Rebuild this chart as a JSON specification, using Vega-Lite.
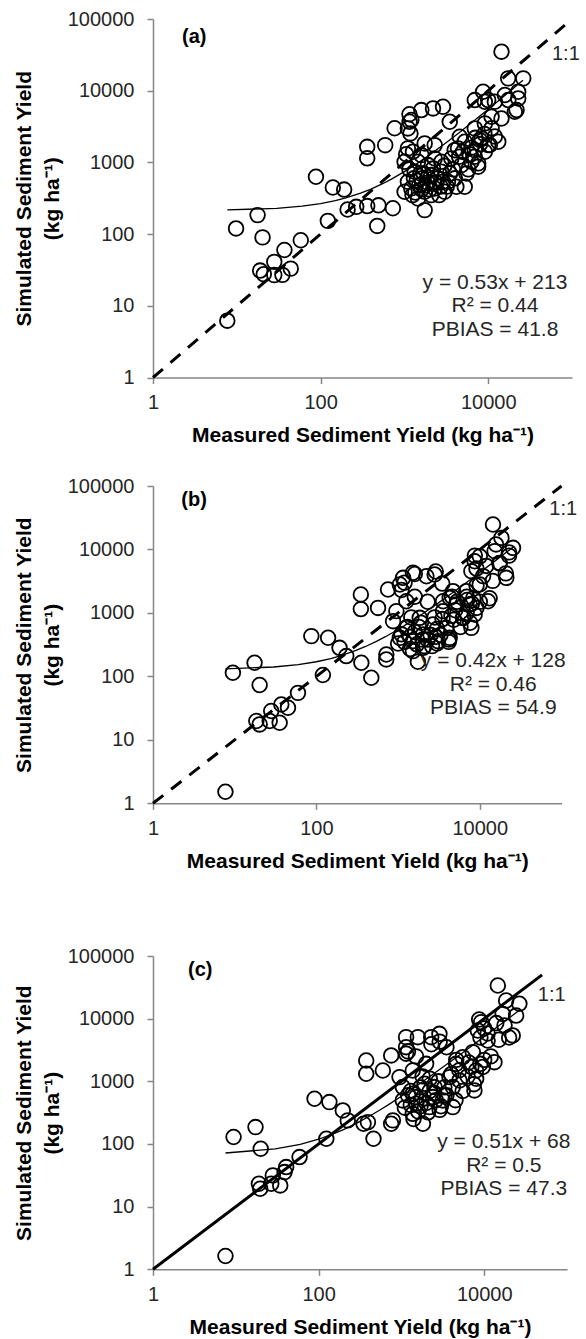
{
  "$schema": "https://vega.github.io/schema/vega-lite/v6.json",
  "background": "white",
  "padding": {"top": 9, "left": 13, "right": 2, "bottom": 0},
  "spacing": 0,
  "bounds": "flush",
  "config": {
    "view": {"stroke": null},
    "font": "Liberation Sans",
    "axis": {
      "grid": false,
      "domainColor": "#868686",
      "tickColor": "#868686",
      "domainWidth": 1.5,
      "tickWidth": 1.5,
      "tickSize": 6,
      "labelFont": "Liberation Sans",
      "labelFontSize": 20,
      "labelColor": "#262626",
      "labelFlush": false,
      "labelOverlap": false,
      "titleFont": "Liberation Sans",
      "titleFontSize": 21,
      "titleFontWeight": "bold",
      "titleColor": "#000000"
    },
    "axisX": {"labelPadding": 9, "titlePadding": 12},
    "axisY": {"labelPadding": 13, "titlePadding": 5, "titleLineHeight": 28}
  },
  "resolve": {"scale": {"x": "independent", "y": "independent"}},
  "datasets": {
    "pa": [
      {"x":7.7,"y":6.2},{"x":9.8,"y":120},{"x":17.7,"y":184},{"x":20.3,"y":90},{"x":19,"y":31},{"x":21,"y":27.6},{"x":28,"y":26.8},{"x":28,"y":41},{"x":35,"y":27},{"x":37,"y":60},{"x":44,"y":33},{"x":58,"y":82},{"x":88,"y":630},{"x":122,"y":153},{"x":140,"y":447},{"x":191,"y":418},{"x":210,"y":220},{"x":266,"y":240},{"x":360,"y":246},{"x":360,"y":1650},{"x":360,"y":1140},{"x":474,"y":130},{"x":590,"y":1740},{"x":764,"y":2990},{"x":729,"y":229},{"x":1050,"y":1300},{"x":1150,"y":4700},{"x":1210,"y":3900},{"x":1100,"y":2980},{"x":1153,"y":3690},{"x":1180,"y":2535},{"x":1592,"y":5370},{"x":2195,"y":5660},{"x":2890,"y":5970},{"x":3475,"y":3690},{"x":1100,"y":1567},{"x":1265,"y":1407},{"x":1746,"y":1840},{"x":2298,"y":1742},{"x":1452,"y":1021},{"x":1910,"y":917},{"x":4575,"y":2280},{"x":5250,"y":1940},{"x":4365,"y":1567},{"x":3630,"y":1135},{"x":6920,"y":2980},{"x":8320,"y":2160},{"x":10000,"y":1742},{"x":13200,"y":1940},{"x":7590,"y":869},{"x":6310,"y":1021},{"x":9120,"y":1407},{"x":6920,"y":1483},{"x":4170,"y":457},{"x":2890,"y":537},{"x":1746,"y":216},{"x":490,"y":252},{"x":6920,"y":7400},{"x":9120,"y":7010},{"x":12000,"y":7010},{"x":17400,"y":7400},{"x":22800,"y":7800},{"x":20800,"y":5080},{"x":14400,"y":4100},{"x":10970,"y":4330},{"x":9120,"y":3500},{"x":1005,"y":1021},{"x":1324,"y":740},{"x":1100,"y":537},{"x":1592,"y":597},{"x":2090,"y":665},{"x":2755,"y":740},{"x":1208,"y":433},{"x":1746,"y":389},{"x":2298,"y":433},{"x":3020,"y":389},{"x":1452,"y":314},{"x":2090,"y":350},{"x":1005,"y":389},{"x":2755,"y":1021},{"x":2298,"y":1135},{"x":1592,"y":1264},{"x":3311,"y":537},{"x":4780,"y":917},{"x":14400,"y":35000},{"x":17300,"y":14860},{"x":26200,"y":14860},{"x":22800,"y":9680},{"x":15800,"y":8700},{"x":21800,"y":5370},{"x":8690,"y":9680},{"x":9980,"y":7400},{"x":10470,"y":1747},{"x":7940,"y":2050},{"x":6300,"y":1600},{"x":7000,"y":2200},{"x":7590,"y":970},{"x":5800,"y":800},{"x":6900,"y":1200},{"x":5250,"y":457},{"x":3980,"y":1480},{"x":1300,"y":600},{"x":1500,"y":480},{"x":1700,"y":700},{"x":1900,"y":520},{"x":1250,"y":350},{"x":1600,"y":420},{"x":2500,"y":600},{"x":2200,"y":820},{"x":3500,"y":700},{"x":4000,"y":600},{"x":3000,"y":900},{"x":5500,"y":700},{"x":4500,"y":1200},{"x":5000,"y":1400},{"x":6000,"y":1300},{"x":8000,"y":1800},{"x":9000,"y":2500},{"x":12000,"y":2300},{"x":11000,"y":3000},
      {"x":1150,"y":800},{"x":1400,"y":560},{"x":1800,"y":480},{"x":2000,"y":420},{"x":2400,"y":520},{"x":2600,"y":350},{"x":1350,"y":380},{"x":3200,"y":460},{"x":2700,"y":460},{"x":3800,"y":800},{"x":1550,"y":700},{"x":1900,"y":620}
    ],
    "pb": [
      {"x":7.7,"y":1.52},{"x":9.5,"y":114},{"x":17.5,"y":164},{"x":20.2,"y":73},{"x":18.4,"y":19.8},{"x":20.2,"y":17.5},{"x":26.8,"y":19.8},{"x":28,"y":28.5},{"x":35.5,"y":18.6},{"x":37.2,"y":36},{"x":44.9,"y":32},{"x":59.5,"y":55},{"x":86.7,"y":431},{"x":139,"y":406},{"x":120,"y":105},{"x":192,"y":282},{"x":232,"y":209},{"x":355,"y":164},{"x":470,"y":95},{"x":350,"y":1950},{"x":350,"y":1150},{"x":716,"y":185},{"x":14500,"y":24700},{"x":18400,"y":15200},{"x":25500,"y":10600},{"x":15200,"y":9400},{"x":17500,"y":6150},{"x":21100,"y":3570},{"x":8650,"y":6530},{"x":7890,"y":4550},{"x":9980,"y":2810},{"x":12600,"y":1530},{"x":6840,"y":2200},{"x":7510,"y":1360},{"x":8650,"y":944},{"x":4280,"y":1730},{"x":5160,"y":1360},{"x":3550,"y":1067},{"x":2800,"y":4030},{"x":2220,"y":3790},{"x":1520,"y":4290},{"x":1150,"y":3570},{"x":1050,"y":2800},{"x":753,"y":2340},{"x":568,"y":1200},{"x":953,"y":1067},{"x":1260,"y":1530},{"x":868,"y":741},{"x":1260,"y":582},{"x":1050,"y":405},{"x":1520,"y":359},{"x":2020,"y":457},{"x":2670,"y":658},{"x":3900,"y":582},{"x":4280,"y":405},{"x":3080,"y":359},{"x":1840,"y":837},{"x":1520,"y":250},{"x":2020,"y":282},{"x":718,"y":221},{"x":6220,"y":830},{"x":7890,"y":582},{"x":3550,"y":1530},{"x":4700,"y":2200},{"x":1200,"y":3000},{"x":1100,"y":2300},{"x":1600,"y":1800},{"x":2300,"y":1500},{"x":1450,"y":850},{"x":1900,"y":700},{"x":1100,"y":460},{"x":1700,"y":320},{"x":2300,"y":380},{"x":3000,"y":330},{"x":1400,"y":270},{"x":2100,"y":300},{"x":1000,"y":330},{"x":2800,"y":850},{"x":3300,"y":450},{"x":4800,"y":780},{"x":4200,"y":380},{"x":5800,"y":600},{"x":6900,"y":1000},{"x":9100,"y":1200},{"x":10000,"y":1500},{"x":13200,"y":1700},{"x":7600,"y":700},{"x":6300,"y":850},{"x":9100,"y":5000},{"x":12000,"y":5500},{"x":17400,"y":6000},{"x":22800,"y":8000},{"x":20800,"y":4200},{"x":14400,"y":3200},{"x":10970,"y":3800},{"x":9120,"y":2700},{"x":10000,"y":7800},{"x":15800,"y":12000},{"x":22800,"y":9000},{"x":8700,"y":8000},{"x":2890,"y":4500},{"x":1600,"y":4100},{"x":3470,"y":2900},{"x":4575,"y":1800},{"x":5250,"y":1500},{"x":6920,"y":1800},{"x":8320,"y":1700},{"x":7000,"y":1600},{"x":8000,"y":1400},{"x":5000,"y":1100},{"x":4500,"y":900},{"x":1746,"y":170},{"x":4170,"y":350},{"x":2890,"y":420},
      {"x":1300,"y":600},{"x":1600,"y":500},{"x":2000,"y":380},{"x":2500,"y":450},{"x":3000,"y":560},{"x":1200,"y":350},{"x":2600,"y":300},{"x":3500,"y":800},{"x":1800,"y":600},{"x":1400,"y":420}
    ],
    "pc": [
      {"x":7.5,"y":1.63},{"x":9.4,"y":129},{"x":17.3,"y":186},{"x":20,"y":84},{"x":19,"y":23.2},{"x":19.7,"y":19.3},{"x":26.8,"y":23.2},{"x":28,"y":31.5},{"x":34.4,"y":21.8},{"x":38.8,"y":35.6},{"x":40.6,"y":42.8},{"x":58.9,"y":61.8},{"x":89.3,"y":526},{"x":135,"y":466},{"x":124,"y":121},{"x":196,"y":343},{"x":225,"y":238},{"x":349,"y":210},{"x":460,"y":121},{"x":752,"y":210},{"x":14600,"y":33800},{"x":18400,"y":19500},{"x":26600,"y":17300},{"x":24300,"y":11200},{"x":16700,"y":11900},{"x":17600,"y":7800},{"x":22100,"y":5400},{"x":9190,"y":8790},{"x":8370,"y":6470},{"x":11000,"y":4490},{"x":13300,"y":2020},{"x":9620,"y":1690},{"x":7280,"y":2920},{"x":7980,"y":1490},{"x":7620,"y":716},{"x":5520,"y":2430},{"x":4580,"y":1900},{"x":3810,"y":1167},{"x":5030,"y":1033},{"x":4180,"y":809},{"x":2880,"y":5730},{"x":2290,"y":5070},{"x":1580,"y":5070},{"x":1140,"y":5070},{"x":1140,"y":3510},{"x":1140,"y":2760},{"x":753,"y":2590},{"x":376,"y":2150},{"x":376,"y":1320},{"x":597,"y":1490},{"x":949,"y":1167},{"x":1370,"y":1490},{"x":1990,"y":1900},{"x":1040,"y":809},{"x":1370,"y":633},{"x":1900,"y":915},{"x":2510,"y":809},{"x":1040,"y":496},{"x":1510,"y":438},{"x":2180,"y":388},{"x":3160,"y":496},{"x":4180,"y":388},{"x":3320,"y":596},{"x":1370,"y":303},{"x":1820,"y":210},{"x":789,"y":238},{"x":394,"y":223},{"x":1200,"y":3000},{"x":1500,"y":2500},{"x":1800,"y":1200},{"x":2200,"y":1100},{"x":1300,"y":700},{"x":1700,"y":800},{"x":2500,"y":650},{"x":2800,"y":1000},{"x":3500,"y":600},{"x":3000,"y":400},{"x":1100,"y":380},{"x":1600,"y":330},{"x":2100,"y":320},{"x":1400,"y":250},{"x":4500,"y":500},{"x":5500,"y":700},{"x":6300,"y":1200},{"x":7000,"y":1700},{"x":8000,"y":1100},{"x":9000,"y":1900},{"x":10000,"y":2200},{"x":12000,"y":2500},{"x":6500,"y":2000},{"x":7500,"y":900},{"x":5000,"y":1500},{"x":4000,"y":1300},{"x":9000,"y":5000},{"x":11000,"y":5800},{"x":15000,"y":4600},{"x":20000,"y":5000},{"x":14000,"y":8500},{"x":10000,"y":7000},{"x":8700,"y":9700},{"x":2900,"y":4300},{"x":3500,"y":3500},{"x":2300,"y":3900},{"x":4600,"y":2200},
      {"x":1200,"y":600},{"x":1500,"y":560},{"x":2000,"y":450},{"x":2400,"y":560},{"x":2900,"y":350},{"x":1700,"y":400},{"x":3300,"y":800},{"x":2600,"y":500},{"x":1300,"y":420},{"x":2200,"y":700}
    ],
    "ta": [
      {"x":7.7,"y":217.1},{"x":30,"y":228.9},{"x":60,"y":244.8},{"x":100,"y":266},{"x":150,"y":292.5},{"x":200,"y":319},{"x":300,"y":372},{"x":400,"y":425},{"x":550,"y":504.5},{"x":700,"y":584},{"x":1000,"y":743},{"x":1400,"y":955},{"x":2000,"y":1273},{"x":3000,"y":1803},{"x":4500,"y":2598},{"x":7000,"y":3923},{"x":10000,"y":5513},{"x":15000,"y":8163},{"x":20000,"y":10813},{"x":26000,"y":13993}
    ],
    "tb": [
      {"x":7.7,"y":131.2},{"x":30,"y":140.6},{"x":60,"y":153.2},{"x":100,"y":170},{"x":150,"y":191},{"x":200,"y":212},{"x":300,"y":254},{"x":400,"y":296},{"x":550,"y":359},{"x":700,"y":422},{"x":1000,"y":548},{"x":1400,"y":716},{"x":2000,"y":968},{"x":3000,"y":1388},{"x":4500,"y":2018},{"x":7000,"y":3068},{"x":10000,"y":4328},{"x":15000,"y":6428},{"x":20000,"y":8528},{"x":25500,"y":10838}
    ],
    "tc": [
      {"x":7.5,"y":71.8},{"x":30,"y":83.3},{"x":60,"y":98.6},{"x":100,"y":119},{"x":150,"y":144.5},{"x":200,"y":170},{"x":300,"y":221},{"x":400,"y":272},{"x":550,"y":348.5},{"x":700,"y":425},{"x":1000,"y":578},{"x":1400,"y":782},{"x":2000,"y":1088},{"x":3000,"y":1598},{"x":4500,"y":2363},{"x":7000,"y":3638},{"x":10000,"y":5168},{"x":15000,"y":7718},{"x":20000,"y":10268},{"x":26600,"y":13634}
    ],
    "oab": [{"x":1,"y":1},{"x":100000,"y":100000}],
    "oc": [{"x":1,"y":1},{"x":50000,"y":50000}],
    "la": [{"x":2.22,"y":57000,"t":"(a)"}],
    "lb": [{"x":2.22,"y":59700,"t":"(b)"}],
    "lc": [{"x":2.65,"y":59300,"t":"(c)"}],
    "ra": [{"x":57700,"y":32000,"t":"1:1"}],
    "rb": [{"x":71000,"y":43100,"t":"1:1"}],
    "rc": [{"x":44400,"y":24100,"t":"1:1"}],
    "ea": [{"x":12050,"y":20.8,"t":"y = 0.53x + 213"},{"x":12050,"y":9.78,"t":"R² = 0.44"},{"x":12050,"y":4.6,"t":"PBIAS = 41.8"}],
    "eb": [{"x":14600,"y":174,"t":"y = 0.42x + 128"},{"x":14600,"y":74.3,"t":"R² = 0.46"},{"x":14600,"y":31.7,"t":"PBIAS = 54.9"}],
    "ec": [{"x":17250,"y":107,"t":"y = 0.51x + 68"},{"x":17250,"y":45.3,"t":"R² = 0.5"},{"x":17250,"y":19.1,"t":"PBIAS = 47.3"}]
  },
  "vconcat": [
    {
      "width": 419, "height": 358.5,
      "encoding": {
        "x": {"field": "x", "type": "quantitative", "scale": {"type": "log", "domain": [1, 100000], "nice": false}, "axis": {"values": [1, 100, 10000], "format": "d", "title": "Measured Sediment Yield (kg ha⁻¹)"}},
        "y": {"field": "y", "type": "quantitative", "scale": {"type": "log", "domain": [1, 100000], "nice": false}, "axis": {"values": [1, 10, 100, 1000, 10000, 100000], "format": "d", "title": ["Simulated Sediment Yield", "(kg ha⁻¹)"]}}
      },
      "layer": [
        {"data": {"name": "oab"}, "mark": {"type": "line", "color": "black", "strokeWidth": 3, "strokeDash": [13, 10]}, "encoding": {}},
        {"data": {"name": "ta"}, "mark": {"type": "line", "color": "black", "strokeWidth": 1.3}, "encoding": {}},
        {"data": {"name": "pa"}, "mark": {"type": "point", "shape": "circle", "filled": false, "size": 215, "stroke": "black", "strokeWidth": 1.8, "opacity": 1}},
        {"data": {"name": "la"}, "mark": {"type": "text", "align": "left", "baseline": "middle", "fontSize": 20, "fontWeight": "bold", "color": "black"}, "encoding": {"text": {"field": "t"}}},
        {"data": {"name": "ra"}, "mark": {"type": "text", "align": "left", "baseline": "middle", "fontSize": 20, "color": "#262626"}, "encoding": {"text": {"field": "t"}}},
        {"data": {"name": "ea"}, "mark": {"type": "text", "align": "center", "baseline": "middle", "fontSize": 21, "color": "#262626"}, "encoding": {"text": {"field": "t"}}}
      ]
    },
    {"width": 10, "height": 107.5, "data": {"values": [{}]}, "mark": {"type": "point", "opacity": 0}, "encoding": {}},
    {
      "width": 408.5, "height": 317.3,
      "encoding": {
        "x": {"field": "x", "type": "quantitative", "scale": {"type": "log", "domain": [1, 100000], "nice": false}, "axis": {"values": [1, 100, 10000], "format": "d", "title": "Measured Sediment Yield (kg ha⁻¹)"}},
        "y": {"field": "y", "type": "quantitative", "scale": {"type": "log", "domain": [1, 100000], "nice": false}, "axis": {"values": [1, 10, 100, 1000, 10000, 100000], "format": "d", "title": ["Simulated Sediment Yield", "(kg ha⁻¹)"]}}
      },
      "layer": [
        {"data": {"name": "oab"}, "mark": {"type": "line", "color": "black", "strokeWidth": 3, "strokeDash": [13, 10]}, "encoding": {}},
        {"data": {"name": "tb"}, "mark": {"type": "line", "color": "black", "strokeWidth": 1.3}, "encoding": {}},
        {"data": {"name": "pb"}, "mark": {"type": "point", "shape": "circle", "filled": false, "size": 215, "stroke": "black", "strokeWidth": 1.8, "opacity": 1}},
        {"data": {"name": "lb"}, "mark": {"type": "text", "align": "left", "baseline": "middle", "fontSize": 20, "fontWeight": "bold", "color": "black"}, "encoding": {"text": {"field": "t"}}},
        {"data": {"name": "rb"}, "mark": {"type": "text", "align": "left", "baseline": "middle", "fontSize": 20, "color": "#262626"}, "encoding": {"text": {"field": "t"}}},
        {"data": {"name": "eb"}, "mark": {"type": "text", "align": "center", "baseline": "middle", "fontSize": 21, "color": "#262626"}, "encoding": {"text": {"field": "t"}}}
      ]
    },
    {"width": 10, "height": 151.7, "data": {"values": [{}]}, "mark": {"type": "point", "opacity": 0}, "encoding": {}},
    {
      "width": 414, "height": 313.3,
      "encoding": {
        "x": {"field": "x", "type": "quantitative", "scale": {"type": "log", "domain": [1, 100000], "nice": false}, "axis": {"values": [1, 100, 10000], "format": "d", "title": "Measured Sediment Yield (kg ha⁻¹)"}},
        "y": {"field": "y", "type": "quantitative", "scale": {"type": "log", "domain": [1, 100000], "nice": false}, "axis": {"values": [1, 10, 100, 1000, 10000, 100000], "format": "d", "title": ["Simulated Sediment Yield", "(kg ha⁻¹)"]}}
      },
      "layer": [
        {"data": {"name": "oc"}, "mark": {"type": "line", "color": "black", "strokeWidth": 3}, "encoding": {}},
        {"data": {"name": "tc"}, "mark": {"type": "line", "color": "black", "strokeWidth": 1.3}, "encoding": {}},
        {"data": {"name": "pc"}, "mark": {"type": "point", "shape": "circle", "filled": false, "size": 215, "stroke": "black", "strokeWidth": 1.8, "opacity": 1}},
        {"data": {"name": "lc"}, "mark": {"type": "text", "align": "left", "baseline": "middle", "fontSize": 20, "fontWeight": "bold", "color": "black"}, "encoding": {"text": {"field": "t"}}},
        {"data": {"name": "rc"}, "mark": {"type": "text", "align": "left", "baseline": "middle", "fontSize": 20, "color": "#262626"}, "encoding": {"text": {"field": "t"}}},
        {"data": {"name": "ec"}, "mark": {"type": "text", "align": "center", "baseline": "middle", "fontSize": 21, "color": "#262626"}, "encoding": {"text": {"field": "t"}}}
      ]
    }
  ]
}
